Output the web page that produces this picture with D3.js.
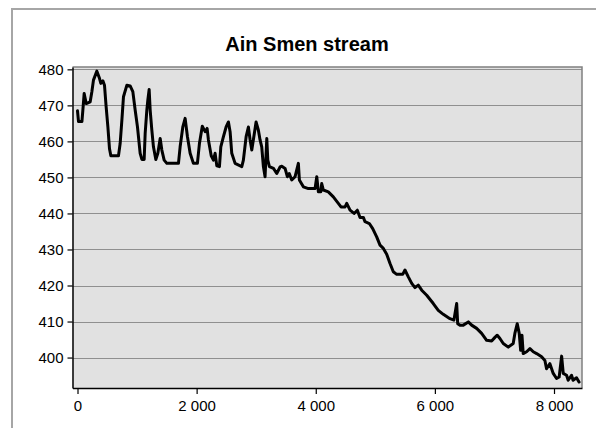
<!DOCTYPE html>
<html>
<head>
<meta charset="utf-8">
<script src="https://cdn.jsdelivr.net/npm/d3@7"></script>
<style>
  html, body { margin: 0; padding: 0; background: #fff; }
  svg { display: block; }
  text { font-family: "Liberation Sans", Arial, sans-serif; }
</style>
</head>
<body>
<svg id="chart" width="596" height="428"></svg>
<script>
// ---- data (distance in m, elevation in m) ----
const title = "Ain Smen stream";
const distance = [0,17,74,90,112,146,213,241,268,325,369,392,426,453,481,510,537,560,688,716,745,772,829,884,929,968,1007,1052,1081,1119,1136,1164,1181,1203,1220,1248,1275,1315,1349,1388,1416,1455,1500,1695,1723,1768,1807,1846,1891,1946,2013,2047,2095,2143,2176,2198,2245,2282,2310,2339,2383,2406,2450,2495,2534,2562,2590,2646,2758,2785,2831,2869,2898,2926,2965,2998,3037,3065,3093,3121,3149,3178,3195,3222,3290,3345,3401,3430,3485,3523,3555,3597,3653,3708,3725,3792,3876,3988,4017,4044,4084,4100,4128,4211,4295,4379,4424,4492,4520,4576,4643,4698,4743,4799,4827,4900,4956,5023,5079,5135,5191,5247,5302,5359,5460,5498,5554,5611,5666,5721,5779,5863,5973,6057,6141,6253,6320,6366,6383,6421,6477,6561,6617,6701,6785,6869,6953,7008,7047,7092,7148,7232,7315,7343,7383,7416,7440,7462,7483,7540,7596,7652,7708,7792,7847,7875,7931,7987,8043,8087,8128,8155,8211,8238,8294,8320,8378,8420];
const elevation = [468.5,465.5,465.5,468.7,473.3,470.5,471,473.8,477,479.5,477.5,476.1,476.8,475.6,469.6,464,458,456,456,459.4,465.9,472.4,475.6,475.4,473.8,468.7,464,456.7,455,455,462.2,468.7,471.5,474.4,468.7,463.1,458.5,455,456.7,460.8,457.6,454.8,453.9,453.9,458.5,464,466.4,461.3,456.7,453.9,453.9,459.4,464.2,462.7,463.6,460.4,456,454.8,456.7,453.2,453,458.5,461.3,464,465.4,462.7,456.7,453.9,453,454.8,461.3,464,460.4,457.6,461.8,465.4,463.1,460.4,458.5,453,450.2,460.8,454.8,453,452.5,451.1,452.9,453.1,452.5,450.2,451.1,449.3,450.2,453.9,449.3,447.4,446.9,446.9,450.2,446,446,448.3,446.5,446,444.6,442.8,441.8,441.8,442.8,440.9,440,440.9,438.9,438.9,437.7,437.2,435.8,433.5,431.2,430.3,428.7,426.1,423.8,423.1,423.1,424.3,422.4,420.6,419.4,420.1,418.7,417.3,415,413.1,412,410.8,410.4,415,409.4,409,409,409.9,409,408.1,406.7,404.8,404.6,405.6,406.2,405.3,403.9,402.9,403.9,406.7,409.4,406.7,402,406.2,401.1,401.6,402.5,401.6,401.1,400.2,399.2,396.9,398.3,395.6,394.2,394.6,400.4,395.6,395.1,393.7,395.1,393.7,394.4,393.2];
const xTicks = [0, 2000, 4000, 6000, 8000];
const yTicks = [400, 410, 420, 430, 440, 450, 460, 470, 480];

const svg = d3.select("#chart");
const L = 72.5, R = 582, T = 67, B = 388;

const x = d3.scaleLinear().domain([-84, 8470]).range([L, R]);
const y = d3.scaleLinear().domain([391.55, 480.65]).range([B, T]);

const loc = d3.formatLocale({decimal: ".", thousands: " ", grouping: [3], currency: ["", ""]});
const fmt = loc.format(",");

// outer frame
svg.append("rect").attr("x", 12).attr("y", 9).attr("width", 640).attr("height", 460)
  .attr("fill", "#fff").attr("stroke", "#a6a6a6").attr("stroke-width", 2);

// plot background
svg.append("rect").attr("x", L).attr("y", T).attr("width", R - L).attr("height", B - T)
  .attr("fill", "#e1e1e1");

// gridlines
svg.append("g").selectAll("line").data(yTicks).join("line")
  .attr("x1", L).attr("x2", R)
  .attr("y1", d => Math.round(y(d)) + 0.5).attr("y2", d => Math.round(y(d)) + 0.5)
  .attr("stroke", "#8f8f8f").attr("stroke-width", 1);

// top & right border
svg.append("path")
  .attr("d", `M${L},${T}H${R}V${B}`)
  .attr("fill", "none").attr("stroke", "#808080").attr("stroke-width", 1.5);

// line
const line = d3.line().x((d, i) => x(distance[i])).y((d, i) => y(elevation[i]));
svg.append("path").datum(elevation)
  .attr("d", line)
  .attr("fill", "none").attr("stroke", "#000").attr("stroke-width", 3)
  .attr("stroke-linejoin", "round").attr("stroke-linecap", "round");

// axes
const yAxis = d3.axisLeft(y).tickValues(yTicks).tickSize(5).tickPadding(4).tickSizeOuter(0);
const gy = svg.append("g").attr("transform", `translate(${L},0)`).call(yAxis);
const xAxis = d3.axisBottom(x).tickValues(xTicks).tickFormat(fmt).tickSize(6).tickPadding(6).tickSizeOuter(0);
const gx = svg.append("g").attr("transform", `translate(0,${B})`).call(xAxis);
[gx, gy].forEach(g => {
  g.select(".domain").attr("stroke", "#000").attr("stroke-width", 1.5);
  g.selectAll(".tick line").attr("stroke", "#000").attr("stroke-width", 1.2);
  g.selectAll(".tick text").attr("fill", "#000")
    .style("font-family", '"Liberation Sans", Arial, sans-serif').style("font-size", "15px");
});

// title
svg.append("text").attr("x", 307).attr("y", 51).attr("text-anchor", "middle")
  .style("font-size", "20px").style("font-weight", "bold").attr("fill", "#000")
  .text(title);
</script>
</body>
</html>
